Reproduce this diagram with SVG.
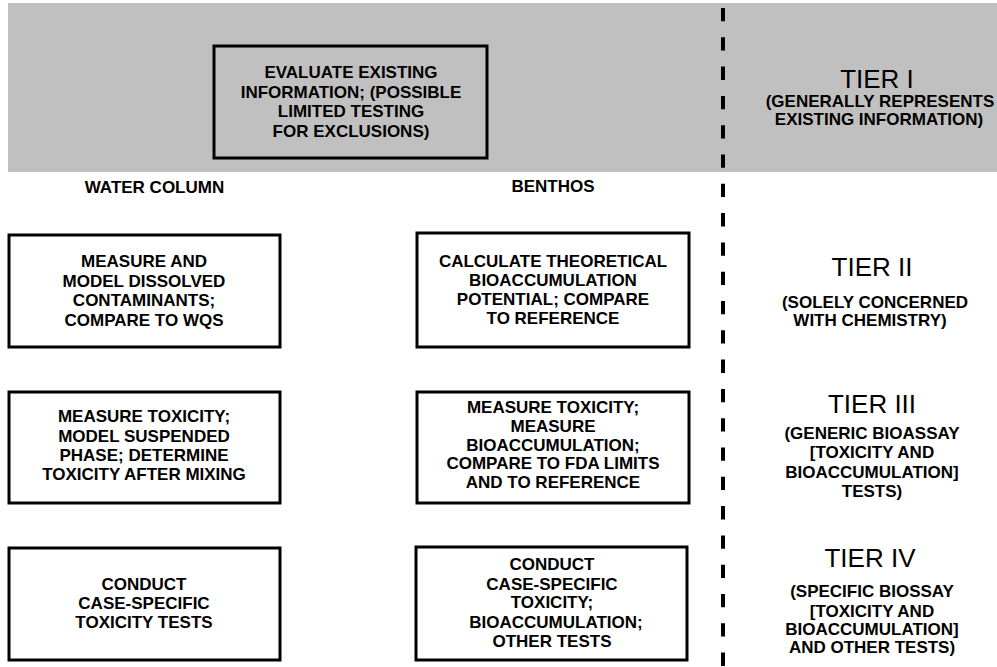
<svg xmlns="http://www.w3.org/2000/svg" width="997" height="667" viewBox="0 0 997 667">
<style>
.box{fill:none;stroke:#000;stroke-width:3}
.t{font-family:"Liberation Sans",Arial,sans-serif;font-weight:bold;font-size:17px;fill:#000;text-anchor:middle}
.tier{font-family:"Liberation Sans",Arial,sans-serif;font-weight:normal;font-size:26px;fill:#000;text-anchor:middle}
</style>
<rect x="0" y="0" width="997" height="667" fill="#fff"/>
<rect id="band" x="8" y="3" width="989" height="169" fill="#c0c0c0"/>
<g id="connectors">
<line x1="723" y1="8" x2="723" y2="667" stroke="#000" stroke-width="4" stroke-dasharray="13.3 16"/>
</g>
<g id="evaluate">
<rect class="box" x="214" y="46" width="273" height="112" stroke-width="3.5"/>
<text class="t" x="351" y="78">EVALUATE EXISTING</text>
<text class="t" x="351" y="98">INFORMATION; (POSSIBLE</text>
<text class="t" x="351" y="117">LIMITED TESTING</text>
<text class="t" x="351" y="137">FOR EXCLUSIONS)</text>
</g>
<g id="tier1">
<text class="tier" x="877" y="88">TIER I</text>
<text class="t" x="880" y="107">(GENERALLY REPRESENTS</text>
<text class="t" x="879" y="125">EXISTING INFORMATION)</text>
</g>
<g id="header-water"><text class="t" x="154.5" y="193">WATER COLUMN</text></g>
<g id="header-benthos"><text class="t" x="553" y="192">BENTHOS</text></g>
<g id="water1">
<rect class="box" x="9" y="235" width="271" height="112"/>
<text class="t" x="144" y="267">MEASURE AND</text>
<text class="t" x="144" y="287">MODEL DISSOLVED</text>
<text class="t" x="144" y="306">CONTAMINANTS;</text>
<text class="t" x="144" y="326">COMPARE TO WQS</text>
</g>
<g id="benthos1">
<rect class="box" x="417" y="233" width="272" height="114"/>
<text class="t" x="553" y="267">CALCULATE THEORETICAL</text>
<text class="t" x="553" y="286">BIOACCUMULATION</text>
<text class="t" x="553" y="305">POTENTIAL; COMPARE</text>
<text class="t" x="553" y="324">TO REFERENCE</text>
</g>
<g id="tier2">
<text class="tier" x="872" y="276">TIER II</text>
<text class="t" x="875" y="308">(SOLELY CONCERNED</text>
<text class="t" x="870" y="326">WITH CHEMISTRY)</text>
</g>
<g id="water2">
<rect class="box" x="9" y="392" width="271" height="111"/>
<text class="t" x="144" y="422">MEASURE TOXICITY;</text>
<text class="t" x="144" y="442">MODEL SUSPENDED</text>
<text class="t" x="144" y="461">PHASE; DETERMINE</text>
<text class="t" x="144" y="480">TOXICITY AFTER MIXING</text>
</g>
<g id="benthos2">
<rect class="box" x="417" y="392" width="272" height="111"/>
<text class="t" x="553" y="413">MEASURE TOXICITY;</text>
<text class="t" x="553" y="432">MEASURE</text>
<text class="t" x="553" y="451">BIOACCUMULATION;</text>
<text class="t" x="553" y="469">COMPARE TO FDA LIMITS</text>
<text class="t" x="553" y="488">AND TO REFERENCE</text>
</g>
<g id="tier3">
<text class="tier" x="872" y="413">TIER III</text>
<text class="t" x="872" y="439">(GENERIC BIOASSAY</text>
<text class="t" x="872" y="458">[TOXICITY AND</text>
<text class="t" x="872" y="478">BIOACCUMULATION]</text>
<text class="t" x="872" y="497">TESTS)</text>
</g>
<g id="water3">
<rect class="box" x="9" y="548" width="271" height="112"/>
<text class="t" x="144" y="590">CONDUCT</text>
<text class="t" x="144" y="609">CASE-SPECIFIC</text>
<text class="t" x="144" y="628">TOXICITY TESTS</text>
</g>
<g id="benthos3">
<rect class="box" x="416" y="547" width="271" height="113"/>
<text class="t" x="552" y="570">CONDUCT</text>
<text class="t" x="552" y="590">CASE-SPECIFIC</text>
<text class="t" x="552" y="608">TOXICITY;</text>
<text class="t" x="556" y="628">BIOACCUMULATION;</text>
<text class="t" x="552" y="647">OTHER TESTS</text>
</g>
<g id="tier4">
<text class="tier" x="870" y="567">TIER IV</text>
<text class="t" x="872" y="597">(SPECIFIC BIOSSAY</text>
<text class="t" x="872" y="617">[TOXICITY AND</text>
<text class="t" x="872" y="635">BIOACCUMULATION]</text>
<text class="t" x="872" y="653">AND OTHER TESTS)</text>
</g>
</svg>
